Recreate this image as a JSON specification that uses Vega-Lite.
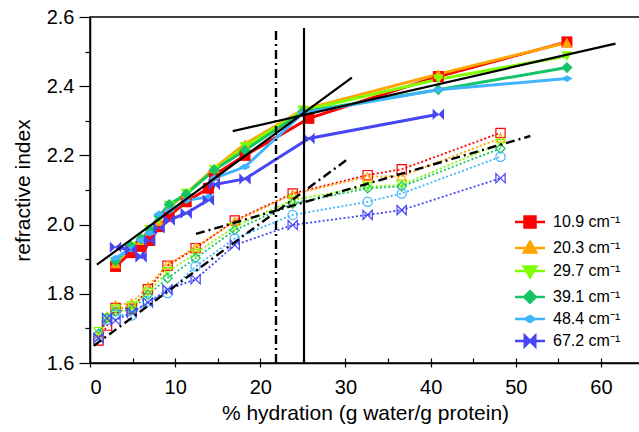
{
  "$schema": "https://vega.github.io/schema/vega-lite/v6.json",
  "autosize": "none",
  "width": 550,
  "height": 346,
  "padding": {"left": 90, "top": 17, "right": 0, "bottom": 69},
  "background": "white",
  "config": {
    "view": {"stroke": "black", "strokeWidth": 1.5},
    "font": "Liberation Sans",
    "axis": {"grid": false, "domainColor": "black", "domainWidth": 1.5, "tickColor": "black", "tickWidth": 1.2, "labelColor": "black", "titleColor": "black", "labelFont": "Liberation Sans", "titleFont": "Liberation Sans", "titleFontWeight": "normal"}
  },
  "datasets": {
    "solid": [
      {"s": "10.9 cm⁻¹", "x": 3.0, "y": 1.879}, {"s": "10.9 cm⁻¹", "x": 4.8, "y": 1.919}, {"s": "10.9 cm⁻¹", "x": 6.0, "y": 1.937}, {"s": "10.9 cm⁻¹", "x": 7.0, "y": 1.954}, {"s": "10.9 cm⁻¹", "x": 8.1, "y": 1.994}, {"s": "10.9 cm⁻¹", "x": 9.3, "y": 2.025}, {"s": "10.9 cm⁻¹", "x": 11.3, "y": 2.066}, {"s": "10.9 cm⁻¹", "x": 13.9, "y": 2.105}, {"s": "10.9 cm⁻¹", "x": 14.6, "y": 2.143}, {"s": "10.9 cm⁻¹", "x": 18.2, "y": 2.2}, {"s": "10.9 cm⁻¹", "x": 25.7, "y": 2.307}, {"s": "10.9 cm⁻¹", "x": 40.9, "y": 2.428}, {"s": "10.9 cm⁻¹", "x": 56.0, "y": 2.528},
      {"s": "20.3 cm⁻¹", "x": 3.0, "y": 1.888}, {"s": "20.3 cm⁻¹", "x": 4.8, "y": 1.935}, {"s": "20.3 cm⁻¹", "x": 6.0, "y": 1.955}, {"s": "20.3 cm⁻¹", "x": 7.0, "y": 1.985}, {"s": "20.3 cm⁻¹", "x": 8.1, "y": 2.01}, {"s": "20.3 cm⁻¹", "x": 9.3, "y": 2.05}, {"s": "20.3 cm⁻¹", "x": 11.3, "y": 2.09}, {"s": "20.3 cm⁻¹", "x": 14.6, "y": 2.163}, {"s": "20.3 cm⁻¹", "x": 18.2, "y": 2.233}, {"s": "20.3 cm⁻¹", "x": 25.0, "y": 2.332}, {"s": "20.3 cm⁻¹", "x": 40.9, "y": 2.435}, {"s": "20.3 cm⁻¹", "x": 56.0, "y": 2.526},
      {"s": "29.7 cm⁻¹", "x": 3.0, "y": 1.892}, {"s": "29.7 cm⁻¹", "x": 4.8, "y": 1.935}, {"s": "29.7 cm⁻¹", "x": 6.0, "y": 1.955}, {"s": "29.7 cm⁻¹", "x": 7.0, "y": 1.985}, {"s": "29.7 cm⁻¹", "x": 8.1, "y": 2.015}, {"s": "29.7 cm⁻¹", "x": 9.3, "y": 2.055}, {"s": "29.7 cm⁻¹", "x": 11.3, "y": 2.09}, {"s": "29.7 cm⁻¹", "x": 14.6, "y": 2.158}, {"s": "29.7 cm⁻¹", "x": 18.2, "y": 2.225}, {"s": "29.7 cm⁻¹", "x": 25.0, "y": 2.33}, {"s": "29.7 cm⁻¹", "x": 40.9, "y": 2.42}, {"s": "29.7 cm⁻¹", "x": 56.0, "y": 2.487},
      {"s": "39.1 cm⁻¹", "x": 3.0, "y": 1.895}, {"s": "39.1 cm⁻¹", "x": 4.8, "y": 1.938}, {"s": "39.1 cm⁻¹", "x": 6.0, "y": 1.958}, {"s": "39.1 cm⁻¹", "x": 7.0, "y": 1.985}, {"s": "39.1 cm⁻¹", "x": 8.1, "y": 2.025}, {"s": "39.1 cm⁻¹", "x": 9.3, "y": 2.058}, {"s": "39.1 cm⁻¹", "x": 11.3, "y": 2.088}, {"s": "39.1 cm⁻¹", "x": 14.6, "y": 2.158}, {"s": "39.1 cm⁻¹", "x": 18.2, "y": 2.215}, {"s": "39.1 cm⁻¹", "x": 25.0, "y": 2.326}, {"s": "39.1 cm⁻¹", "x": 40.9, "y": 2.39}, {"s": "39.1 cm⁻¹", "x": 56.0, "y": 2.454},
      {"s": "48.4 cm⁻¹", "x": 3.0, "y": 1.903}, {"s": "48.4 cm⁻¹", "x": 4.8, "y": 1.93}, {"s": "48.4 cm⁻¹", "x": 6.0, "y": 1.955}, {"s": "48.4 cm⁻¹", "x": 7.0, "y": 1.975}, {"s": "48.4 cm⁻¹", "x": 8.1, "y": 2.03}, {"s": "48.4 cm⁻¹", "x": 9.3, "y": 2.04}, {"s": "48.4 cm⁻¹", "x": 11.3, "y": 2.07}, {"s": "48.4 cm⁻¹", "x": 13.9, "y": 2.08}, {"s": "48.4 cm⁻¹", "x": 14.6, "y": 2.134}, {"s": "48.4 cm⁻¹", "x": 18.2, "y": 2.167}, {"s": "48.4 cm⁻¹", "x": 25.0, "y": 2.322}, {"s": "48.4 cm⁻¹", "x": 40.9, "y": 2.39}, {"s": "48.4 cm⁻¹", "x": 56.0, "y": 2.422},
      {"s": "67.2 cm⁻¹", "x": 3.0, "y": 1.935}, {"s": "67.2 cm⁻¹", "x": 4.8, "y": 1.927}, {"s": "67.2 cm⁻¹", "x": 6.0, "y": 1.906}, {"s": "67.2 cm⁻¹", "x": 7.0, "y": 1.954}, {"s": "67.2 cm⁻¹", "x": 8.1, "y": 1.99}, {"s": "67.2 cm⁻¹", "x": 9.3, "y": 2.013}, {"s": "67.2 cm⁻¹", "x": 11.3, "y": 2.033}, {"s": "67.2 cm⁻¹", "x": 13.9, "y": 2.071}, {"s": "67.2 cm⁻¹", "x": 14.6, "y": 2.116}, {"s": "67.2 cm⁻¹", "x": 18.2, "y": 2.132}, {"s": "67.2 cm⁻¹", "x": 25.7, "y": 2.249}, {"s": "67.2 cm⁻¹", "x": 40.9, "y": 2.319}
    ],
    "dotted": [
      {"s": "10.9 cm⁻¹", "x": 1.0, "y": 1.665}, {"s": "10.9 cm⁻¹", "x": 2.0, "y": 1.708}, {"s": "10.9 cm⁻¹", "x": 3.0, "y": 1.759}, {"s": "10.9 cm⁻¹", "x": 4.9, "y": 1.757}, {"s": "10.9 cm⁻¹", "x": 6.8, "y": 1.813}, {"s": "10.9 cm⁻¹", "x": 9.1, "y": 1.881}, {"s": "10.9 cm⁻¹", "x": 12.4, "y": 1.932}, {"s": "10.9 cm⁻¹", "x": 17.0, "y": 2.012}, {"s": "10.9 cm⁻¹", "x": 23.8, "y": 2.09}, {"s": "10.9 cm⁻¹", "x": 32.6, "y": 2.143}, {"s": "10.9 cm⁻¹", "x": 36.6, "y": 2.16}, {"s": "10.9 cm⁻¹", "x": 48.2, "y": 2.265},
      {"s": "20.3 cm⁻¹", "x": 1.0, "y": 1.685}, {"s": "20.3 cm⁻¹", "x": 2.0, "y": 1.735}, {"s": "20.3 cm⁻¹", "x": 3.0, "y": 1.768}, {"s": "20.3 cm⁻¹", "x": 4.9, "y": 1.773}, {"s": "20.3 cm⁻¹", "x": 6.8, "y": 1.821}, {"s": "20.3 cm⁻¹", "x": 9.1, "y": 1.884}, {"s": "20.3 cm⁻¹", "x": 12.4, "y": 1.935}, {"s": "20.3 cm⁻¹", "x": 17.0, "y": 2.009}, {"s": "20.3 cm⁻¹", "x": 23.8, "y": 2.088}, {"s": "20.3 cm⁻¹", "x": 32.6, "y": 2.138}, {"s": "20.3 cm⁻¹", "x": 36.6, "y": 2.14}, {"s": "20.3 cm⁻¹", "x": 48.2, "y": 2.25},
      {"s": "29.7 cm⁻¹", "x": 1.0, "y": 1.691}, {"s": "29.7 cm⁻¹", "x": 2.0, "y": 1.73}, {"s": "29.7 cm⁻¹", "x": 3.0, "y": 1.756}, {"s": "29.7 cm⁻¹", "x": 4.9, "y": 1.765}, {"s": "29.7 cm⁻¹", "x": 6.8, "y": 1.805}, {"s": "29.7 cm⁻¹", "x": 9.1, "y": 1.864}, {"s": "29.7 cm⁻¹", "x": 12.4, "y": 1.917}, {"s": "29.7 cm⁻¹", "x": 17.0, "y": 1.994}, {"s": "29.7 cm⁻¹", "x": 23.8, "y": 2.071}, {"s": "29.7 cm⁻¹", "x": 32.6, "y": 2.11}, {"s": "29.7 cm⁻¹", "x": 36.6, "y": 2.115}, {"s": "29.7 cm⁻¹", "x": 48.2, "y": 2.235},
      {"s": "39.1 cm⁻¹", "x": 1.0, "y": 1.685}, {"s": "39.1 cm⁻¹", "x": 2.0, "y": 1.73}, {"s": "39.1 cm⁻¹", "x": 3.0, "y": 1.749}, {"s": "39.1 cm⁻¹", "x": 4.9, "y": 1.754}, {"s": "39.1 cm⁻¹", "x": 6.8, "y": 1.797}, {"s": "39.1 cm⁻¹", "x": 9.1, "y": 1.845}, {"s": "39.1 cm⁻¹", "x": 12.4, "y": 1.903}, {"s": "39.1 cm⁻¹", "x": 17.0, "y": 1.984}, {"s": "39.1 cm⁻¹", "x": 23.8, "y": 2.061}, {"s": "39.1 cm⁻¹", "x": 32.6, "y": 2.105}, {"s": "39.1 cm⁻¹", "x": 36.6, "y": 2.11}, {"s": "39.1 cm⁻¹", "x": 48.2, "y": 2.22},
      {"s": "48.4 cm⁻¹", "x": 1.0, "y": 1.68}, {"s": "48.4 cm⁻¹", "x": 2.0, "y": 1.725}, {"s": "48.4 cm⁻¹", "x": 3.0, "y": 1.74}, {"s": "48.4 cm⁻¹", "x": 4.9, "y": 1.737}, {"s": "48.4 cm⁻¹", "x": 6.8, "y": 1.778}, {"s": "48.4 cm⁻¹", "x": 9.1, "y": 1.802}, {"s": "48.4 cm⁻¹", "x": 12.4, "y": 1.879}, {"s": "48.4 cm⁻¹", "x": 17.0, "y": 1.96}, {"s": "48.4 cm⁻¹", "x": 23.8, "y": 2.028}, {"s": "48.4 cm⁻¹", "x": 32.6, "y": 2.066}, {"s": "48.4 cm⁻¹", "x": 36.6, "y": 2.09}, {"s": "48.4 cm⁻¹", "x": 48.2, "y": 2.196},
      {"s": "67.2 cm⁻¹", "x": 1.0, "y": 1.672}, {"s": "67.2 cm⁻¹", "x": 2.0, "y": 1.73}, {"s": "67.2 cm⁻¹", "x": 3.0, "y": 1.723}, {"s": "67.2 cm⁻¹", "x": 4.9, "y": 1.746}, {"s": "67.2 cm⁻¹", "x": 6.8, "y": 1.775}, {"s": "67.2 cm⁻¹", "x": 9.1, "y": 1.812}, {"s": "67.2 cm⁻¹", "x": 12.4, "y": 1.842}, {"s": "67.2 cm⁻¹", "x": 17.0, "y": 1.941}, {"s": "67.2 cm⁻¹", "x": 23.8, "y": 1.999}, {"s": "67.2 cm⁻¹", "x": 32.6, "y": 2.028}, {"s": "67.2 cm⁻¹", "x": 36.6, "y": 2.042}, {"s": "67.2 cm⁻¹", "x": 48.2, "y": 2.134}
    ],
    "fits": [
      {"id": "a", "style": "solid", "x": 0.81, "y": 1.884}, {"id": "a", "style": "solid", "x": 30.75, "y": 2.425},
      {"id": "b", "style": "solid", "x": 16.76, "y": 2.27}, {"id": "b", "style": "solid", "x": 61.7, "y": 2.523},
      {"id": "v1", "style": "solid", "x": 25.13, "y": 1.6}, {"id": "v1", "style": "solid", "x": 25.13, "y": 2.568},
      {"id": "v2", "style": "dashdot", "x": 21.84, "y": 1.6}, {"id": "v2", "style": "dashdot", "x": 21.84, "y": 2.566},
      {"id": "c", "style": "dashdot", "x": 0.45, "y": 1.65}, {"id": "c", "style": "dashdot", "x": 30.3, "y": 2.19},
      {"id": "d", "style": "dashdot", "x": 12.45, "y": 1.973}, {"id": "d", "style": "dashdot", "x": 51.7, "y": 2.256}
    ]
  },
  "resolve": {"scale": {"shape": "independent", "size": "independent"}, "axis": {"x": "independent", "y": "independent"}},
  "layer": [
    {
      "data": {"name": "dotted"},
      "mark": {"type": "line", "strokeWidth": 1.8, "strokeDash": [2, 2.2]},
      "encoding": {
        "x": {"field": "x", "type": "quantitative", "scale": {"domain": [0, 64.58], "nice": false, "zero": false}, "axis": null},
        "y": {"field": "y", "type": "quantitative", "scale": {"domain": [1.6, 2.6], "nice": false, "zero": false}, "axis": null},
        "color": {"field": "s", "type": "nominal", "scale": {"domain": ["10.9 cm⁻¹", "20.3 cm⁻¹", "29.7 cm⁻¹", "39.1 cm⁻¹", "48.4 cm⁻¹", "67.2 cm⁻¹"], "range": ["#ff0000", "#ffa500", "#80ff00", "#14c466", "#40b4ff", "#4646f5"]}}
      }
    },
    {
      "data": {"name": "dotted"},
      "mark": {"type": "point", "filled": false, "strokeWidth": 1.2, "size": 85, "opacity": 1},
      "encoding": {
        "x": {"field": "x", "type": "quantitative", "axis": null},
        "y": {"field": "y", "type": "quantitative", "axis": null},
        "color": {"field": "s", "type": "nominal"},
        "shape": {"field": "s", "type": "nominal", "legend": null, "scale": {"domain": ["10.9 cm⁻¹", "20.3 cm⁻¹", "29.7 cm⁻¹", "39.1 cm⁻¹", "48.4 cm⁻¹", "67.2 cm⁻¹"], "range": ["square", "triangle-up", "triangle-down", "diamond", "circle", "M-1,-1L1,1V-1L-1,1Z"]}}
      }
    },
    {
      "data": {"name": "solid"},
      "mark": {"type": "line", "strokeWidth": 3},
      "encoding": {
        "x": {"field": "x", "type": "quantitative", "axis": null},
        "y": {"field": "y", "type": "quantitative", "axis": null},
        "color": {"field": "s", "type": "nominal", "legend": {
          "orient": "none", "legendX": 432, "legendY": 197, "title": null, "padding": 0,
          "labelFontSize": 16, "labelFont": "Liberation Sans", "labelColor": "black",
          "symbolSize": 100, "symbolStrokeWidth": 2.5, "rowPadding": 3, "labelOffset": 15, "symbolOpacity": 1,
          "encode": {"symbols": {"update": {
            "shape": {"signal": "['M-3,0H3M-1.1,-1.1H1.1V1.1H-1.1Z','M-3,0H3M0,-1.25L1.25,0.9H-1.25Z','M-3,0H3M0,1.25L1.25,-0.9H-1.25Z','M-3,0H3M0,-1.15L1.15,0L0,1.15L-1.15,0Z','M-3,0H3M-1,0L0,-0.6L1,0L0,0.6Z','M-3,0H3M-1.05,-1.05L1.05,1.05V-1.05L-1.05,1.05Z'][datum.index]"},
            "fill": {"signal": "scale('color', datum.value)"},
            "stroke": {"signal": "scale('color', datum.value)"},
            "strokeWidth": {"value": 2.5}
          }}}
        }}
      }
    },
    {
      "data": {"name": "solid"},
      "mark": {"type": "point", "filled": true, "opacity": 1, "strokeWidth": 0},
      "encoding": {
        "x": {"field": "x", "type": "quantitative", "axis": null},
        "y": {"field": "y", "type": "quantitative", "axis": null},
        "color": {"field": "s", "type": "nominal"},
        "shape": {"field": "s", "type": "nominal", "legend": null, "scale": {"domain": ["10.9 cm⁻¹", "20.3 cm⁻¹", "29.7 cm⁻¹", "39.1 cm⁻¹", "48.4 cm⁻¹", "67.2 cm⁻¹"], "range": ["square", "triangle-up", "triangle-down", "diamond", "M-1,0L0,-0.6L1,0L0,0.6Z", "M-1,-1L1,1V-1L-1,1Z"]}},
        "size": {"field": "s", "type": "nominal", "legend": null, "scale": {"domain": ["10.9 cm⁻¹", "20.3 cm⁻¹", "29.7 cm⁻¹", "39.1 cm⁻¹", "48.4 cm⁻¹", "67.2 cm⁻¹"], "range": [120, 130, 130, 100, 110, 120]}}
      }
    },
    {
      "data": {"name": "fits"},
      "transform": [{"filter": "datum.style === 'solid'"}],
      "mark": {"type": "line", "color": "black", "strokeWidth": 2.2},
      "encoding": {
        "x": {"field": "x", "type": "quantitative", "sort": null, "axis": {"orient": "bottom", "values": [0, 10, 20, 30, 40, 50, 60], "tickSize": 4, "labelFontSize": 20, "labelPadding": 10, "title": "% hydration (g water/g protein)", "titleFontSize": 21, "titlePadding": 5}},
        "y": {"field": "y", "type": "quantitative", "axis": {"orient": "left", "values": [1.6, 1.8, 2.0, 2.2, 2.4, 2.6], "format": ".1f", "tickSize": 11, "labelFontSize": 20, "labelPadding": 5, "title": "refractive index", "titleFontSize": 21, "titlePadding": 13}},
        "detail": {"field": "id", "type": "nominal"}
      }
    },
    {
      "data": {"name": "fits"},
      "transform": [{"filter": "datum.style === 'dashdot'"}],
      "mark": {"type": "line", "color": "black", "strokeWidth": 2.4, "strokeDash": [9, 4, 2, 4]},
      "encoding": {
        "x": {"field": "x", "type": "quantitative", "sort": null, "axis": {"orient": "bottom", "values": [0, 5, 10, 15, 20, 25, 30, 35, 40, 45, 50, 55, 60], "tickSize": -5, "labels": false, "domain": false, "title": null}},
        "y": {"field": "y", "type": "quantitative", "axis": {"orient": "left", "values": [1.7, 1.9, 2.1, 2.3, 2.5], "tickSize": 5, "labels": false, "domain": false, "title": null}},
        "detail": {"field": "id", "type": "nominal"}
      }
    }
  ]
}
